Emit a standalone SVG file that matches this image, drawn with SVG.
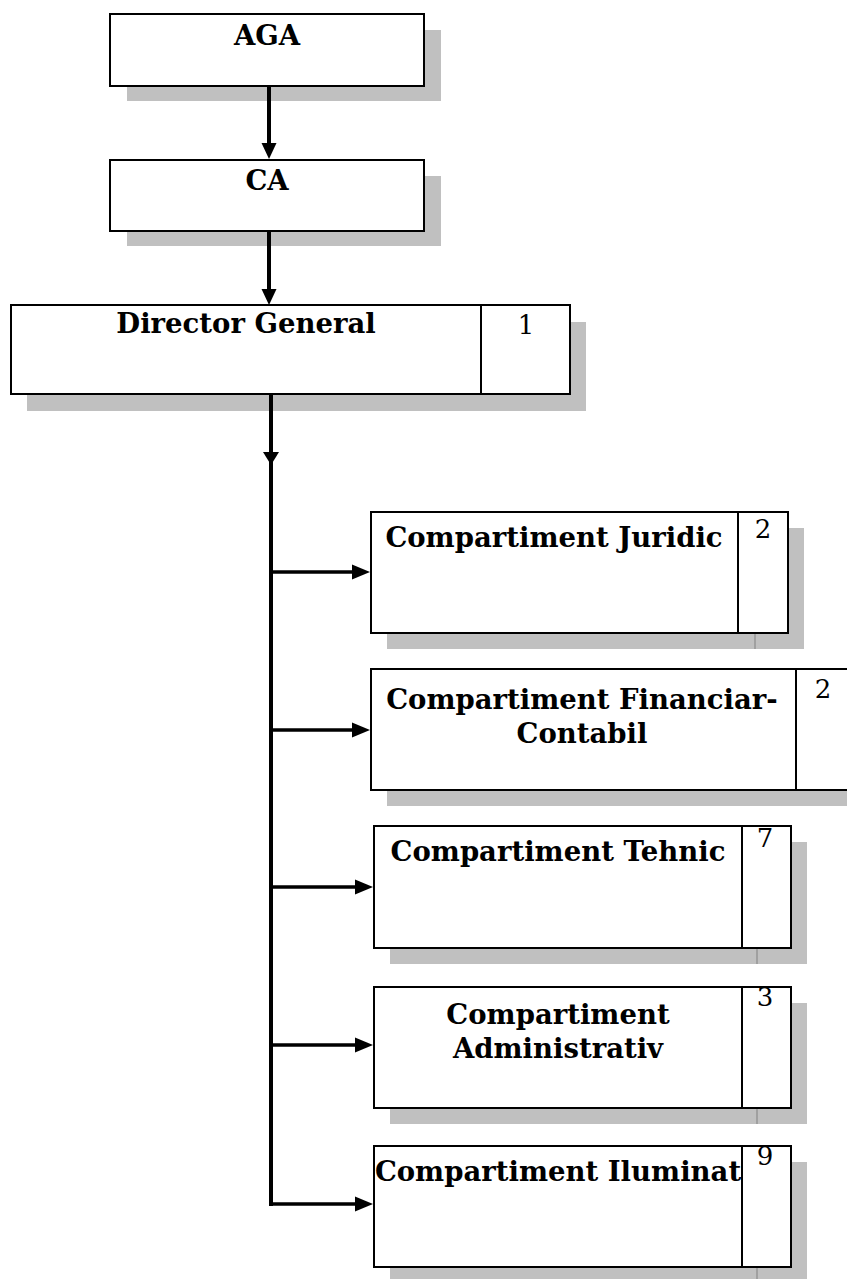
<svg xmlns="http://www.w3.org/2000/svg" width="847" height="1279" viewBox="0 0 847 1279">
<style>
.bg{fill:#ffffff}
.sh{fill:#c0c0c0}
.shl{stroke:#a0a0a0;stroke-width:2;fill:none}
.box{fill:#ffffff;stroke:#000000;stroke-width:2}
.div{stroke:#000000;stroke-width:2;fill:none}
.t{font-family:"DejaVu Serif","Liberation Serif",serif;font-weight:bold;font-size:27.5px;fill:#000;text-anchor:middle}
.n{font-family:"DejaVu Serif","Liberation Serif",serif;font-weight:normal;font-size:26px;fill:#000;text-anchor:middle}
.ln{stroke:#000;stroke-width:4;fill:none}
.lh{stroke:#000;stroke-width:3.5;fill:none}
.ah{fill:#000}
</style>
<rect class="bg" x="0" y="0" width="847" height="1279"/>

<g id="node-aga">
<rect class="sh" x="127" y="30" width="314" height="71"/>
<rect class="box" x="110" y="14" width="314" height="72"/>
<text class="t" x="267" y="45">AGA</text>
</g>

<g id="node-ca">
<rect class="sh" x="127" y="176" width="314" height="70"/>
<rect class="box" x="110" y="160" width="314" height="71"/>
<text class="t" x="267" y="190">CA</text>
</g>

<g id="node-director">
<rect class="sh" x="27" y="322" width="559" height="89"/>
<rect class="box" x="11" y="305" width="559" height="89"/>
<line class="div" x1="481" y1="305" x2="481" y2="394"/>
<text class="t" x="246" y="333">Director General</text>
<text class="n" x="526" y="334">1</text>
</g>

<g id="node-juridic">
<rect class="sh" x="387" y="528" width="417" height="121"/>
<line class="shl" x1="755" y1="634" x2="755" y2="649"/>
<rect class="box" x="371" y="512" width="417" height="121"/>
<line class="div" x1="738" y1="512" x2="738" y2="633"/>
<text class="t" x="554" y="547">Compartiment Juridic</text>
<text class="n" x="763" y="538">2</text>
</g>

<g id="node-financiar">
<rect class="sh" x="387" y="685" width="477" height="121"/>
<rect class="box" x="371" y="669" width="477" height="121"/>
<line class="div" x1="796" y1="669" x2="796" y2="790"/>
<text class="t" x="582" y="709">Compartiment Financiar-</text>
<text class="t" x="582" y="743">Contabil</text>
<text class="n" x="823" y="698">2</text>
</g>

<g id="node-tehnic">
<rect class="sh" x="390" y="842" width="417" height="122"/>
<line class="shl" x1="757" y1="949" x2="757" y2="964"/>
<rect class="box" x="374" y="826" width="417" height="122"/>
<line class="div" x1="742" y1="826" x2="742" y2="948"/>
<text class="t" x="558" y="861">Compartiment Tehnic</text>
<text class="n" x="765" y="847">7</text>
</g>

<g id="node-administrativ">
<rect class="sh" x="390" y="1003" width="417" height="121"/>
<line class="shl" x1="757" y1="1109" x2="757" y2="1124"/>
<rect class="box" x="374" y="987" width="417" height="121"/>
<line class="div" x1="742" y1="987" x2="742" y2="1108"/>
<text class="t" x="558" y="1024">Compartiment</text>
<text class="t" x="558" y="1058">Administrativ</text>
<text class="n" x="765" y="1006">3</text>
</g>

<g id="node-iluminat">
<rect class="sh" x="390" y="1162" width="417" height="121"/>
<line class="shl" x1="757" y1="1268" x2="757" y2="1283"/>
<rect class="box" x="374" y="1146" width="417" height="121"/>
<line class="div" x1="742" y1="1146" x2="742" y2="1267"/>
<text class="t" x="558" y="1181">Compartiment Iluminat</text>
<text class="n" x="765" y="1165">9</text>
</g>

<g id="connectors">
<line class="ln" x1="269" y1="87" x2="269" y2="145"/>
<polygon class="ah" points="261.5,143 276.5,143 269,159"/>
<line class="ln" x1="269" y1="232" x2="269" y2="290"/>
<polygon class="ah" points="261.5,289 276.5,289 269,305"/>
<line class="ln" x1="271" y1="395" x2="271" y2="1206"/>
<polygon class="ah" points="263,452 279,452 271,465"/>
<line class="lh" x1="271" y1="572" x2="354" y2="572"/>
<polygon class="ah" points="352,564.5 352,579.5 370,572"/>
<line class="lh" x1="271" y1="730" x2="354" y2="730"/>
<polygon class="ah" points="352,722.5 352,737.5 370,730"/>
<line class="lh" x1="271" y1="887" x2="357" y2="887"/>
<polygon class="ah" points="355,879.5 355,894.5 373,887"/>
<line class="lh" x1="271" y1="1045" x2="357" y2="1045"/>
<polygon class="ah" points="355,1037.5 355,1052.5 373,1045"/>
<line class="lh" x1="271" y1="1204" x2="357" y2="1204"/>
<polygon class="ah" points="355,1196.5 355,1211.5 373,1204"/>
</g>
</svg>
